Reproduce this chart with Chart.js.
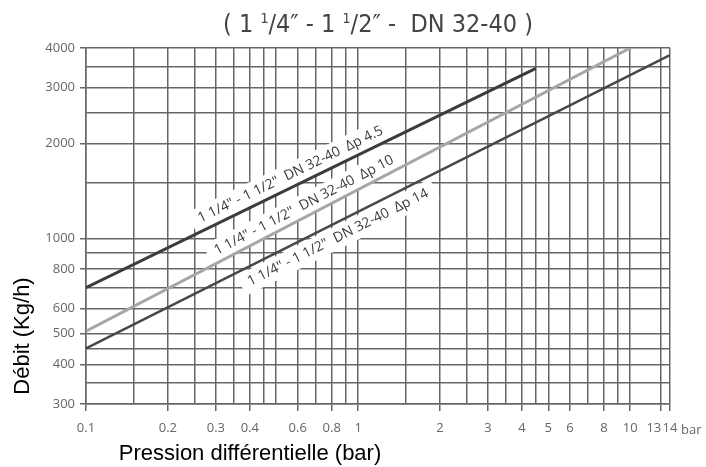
<!DOCTYPE html>
<html>
<head>
<meta charset="utf-8">
<script src="https://cdn.jsdelivr.net/npm/chart.js@4.4.1/dist/chart.umd.min.js"></script>
<style>
  html, body { margin: 0; padding: 0; background: #fff; }
  #wrap { width: 706px; height: 467px; }
</style>
</head>
<body>
<div id="wrap"><canvas id="chart" width="706" height="467"></canvas></div>
<script>
// Values (pressure in bar, flow in kg/h)
const seriesLabels = [
    '1 1/4" - 1 1/2"  DN 32-40  \u0394p 4.5',
    '1 1/4" - 1 1/2"  DN 32-40  \u0394p 10',
    '1 1/4" - 1 1/2"  DN 32-40  \u0394p 14'
];
const pressure45 = [0.1, 4.5];
const flow45 = [700, 3450];
const pressure10 = [0.1, 10];
const flow10 = [510, 4000];
const pressure14 = [0.1, 14];
const flow14 = [450, 3800];

// Grid lines and labelled ticks
const xGrid = [0.1, 0.15, 0.2, 0.25, 0.3, 0.35, 0.4, 0.45, 0.5, 0.6, 0.7, 0.8, 0.9, 1,
    1.5, 2, 2.5, 3, 3.5, 4, 4.5, 5, 6, 7, 8, 9, 10, 13, 14];
const xLabelled = [0.1, 0.2, 0.3, 0.4, 0.6, 0.8, 1, 2, 3, 4, 5, 6, 8, 10, 13, 14];
const yGrid = [300, 350, 400, 450, 500, 600, 700, 800, 900, 1000, 1500, 2000, 2500, 3000, 3500, 4000];
const yLabelled = [300, 400, 500, 600, 800, 1000, 2000, 3000, 4000];

const GRID = '#666';
const TICK_FONT = "'Open Sans', 'Liberation Sans', sans-serif";
const TITLE_FONT = "'Liberation Sans Narrow', 'DejaVu Sans Condensed', sans-serif";

function toPoints(xs, ys) {
    return xs.map((x, i) => ({ x, y: ys[i] }));
}

function isIn(list, v) {
    return list.some(l => Math.abs(l - v) < 1e-9);
}

// Line labels: where along the line (bar) and perpendicular offset (px, negative = above)
const labelPlacement = [
    { at: 0.59, off: -12 },
    { at: 0.66, off: -11 },
    { at: 0.8, off: 14 }
];

const textPlugin = {
    id: 'diagramText',
    beforeDatasetsDraw(chart) {
        const ctx = chart.ctx;
        const xs = chart.scales.x, ys = chart.scales.y;
        ctx.save();
        ctx.font = "14px " + TICK_FONT;
        chart.data.datasets.forEach((ds, i) => {
            const d = ds.data;
            const p0 = { x: xs.getPixelForValue(d[0].x), y: ys.getPixelForValue(d[0].y) };
            const p1 = { x: xs.getPixelForValue(d[d.length - 1].x), y: ys.getPixelForValue(d[d.length - 1].y) };
            const a = Math.atan2(p1.y - p0.y, p1.x - p0.x);
            const ax = xs.getPixelForValue(labelPlacement[i].at);
            const t = (ax - p0.x) / (p1.x - p0.x);
            const ay = p0.y + t * (p1.y - p0.y);
            const off = labelPlacement[i].off;
            const cx = ax - Math.sin(a) * off;
            const cy = ay + Math.cos(a) * off;
            const w = ctx.measureText(seriesLabels[i]).width;
            ctx.save();
            ctx.translate(cx, cy);
            ctx.rotate(a);
            ctx.fillStyle = '#fff';
            ctx.fillRect(-w / 2 - 8, -11, w + 16, 22);
            ctx.fillStyle = '#3a3a3a';
            ctx.textAlign = 'center';
            ctx.textBaseline = 'middle';
            ctx.fillText(seriesLabels[i], 0, 0);
            ctx.restore();
        });
        ctx.restore();
    },
    afterDraw(chart) {
        const ctx = chart.ctx;
        const area = chart.chartArea;
        ctx.save();

        // title with small raised numerators
        const runs = [
            { t: '( 1 ', s: 25, dy: 0 },
            { t: '1', s: 14, dy: -9 },
            { t: '/4\u2033 - 1 ', s: 25, dy: 0 },
            { t: '1', s: 14, dy: -9 },
            { t: '/2\u2033 -  DN 32-40 )', s: 25, dy: 0 }
        ];
        let total = 0;
        runs.forEach(r => {
            ctx.font = r.s + "px " + TITLE_FONT;
            r.w = ctx.measureText(r.t).width;
            total += r.w;
        });
        let x = (area.left + area.right) / 2 - total / 2;
        ctx.fillStyle = '#444';
        ctx.textBaseline = 'alphabetic';
        ctx.textAlign = 'left';
        runs.forEach(r => {
            ctx.font = r.s + "px " + TITLE_FONT;
            ctx.fillText(r.t, x, 32 + r.dy);
            x += r.w;
        });

        // unit after the last x label
        ctx.font = "13px " + TICK_FONT;
        ctx.fillStyle = '#666';
        ctx.textBaseline = 'middle';
        ctx.fillText('bar', chart.scales.x.getPixelForValue(14) + 11, 430);

        // axis titles
        ctx.fillStyle = '#000';
        ctx.font = "22px 'Liberation Sans', Arial, sans-serif";
        ctx.textAlign = 'center';
        ctx.fillText('Pression diff\u00e9rentielle (bar)', 250, 454);
        ctx.save();
        ctx.translate(23, 336);
        ctx.rotate(-Math.PI / 2);
        ctx.fillText('D\u00e9bit (Kg/h)', 0, 0);
        ctx.restore();

        ctx.restore();
    }
};

new Chart(document.getElementById('chart'), {
    type: 'line',
    data: {
        datasets: [
            {
                label: seriesLabels[0],
                data: toPoints(pressure45, flow45),
                borderColor: '#3c3c3c',
                borderWidth: 3
            },
            {
                label: seriesLabels[1],
                data: toPoints(pressure10, flow10),
                borderColor: '#a6a6a6',
                borderWidth: 3
            },
            {
                label: seriesLabels[2],
                data: toPoints(pressure14, flow14),
                borderColor: '#474747',
                borderWidth: 2.5
            }
        ]
    },
    options: {
        responsive: false,
        animation: false,
        devicePixelRatio: 1,
        layout: { padding: { top: 48, right: 36, left: 0, bottom: 0 } },
        elements: { point: { radius: 0 }, line: { tension: 0 } },
        plugins: {
            legend: { display: false },
            title: { display: false },
            tooltip: { enabled: false }
        },
        scales: {
            x: {
                type: 'logarithmic',
                min: 0.1,
                max: 14,
                afterBuildTicks: s => { s.ticks = xGrid.map(v => ({ value: v })); },
                afterFit: s => { s.height = 63; },
                ticks: {
                    autoSkip: false,
                    maxRotation: 0,
                    padding: 9,
                    color: '#666',
                    font: { family: TICK_FONT, size: 13 },
                    callback: v => {
                        if (!isIn(xLabelled, v)) return '';
                        return v === 13 ? '13\u2007\u2007' : String(v);
                    }
                },
                grid: {
                    color: GRID,
                    lineWidth: 1.5,
                    tickLength: 7,
                    tickColor: c => isIn(xLabelled, c.tick.value) ? GRID : 'rgba(0,0,0,0)'
                },
                border: { color: GRID, width: 1.5 }
            },
            y: {
                type: 'logarithmic',
                min: 300,
                max: 4000,
                afterBuildTicks: s => { s.ticks = yGrid.map(v => ({ value: v })); },
                afterFit: s => { s.width = 86; },
                ticks: {
                    autoSkip: false,
                    padding: 5,
                    color: '#666',
                    font: { family: TICK_FONT, size: 13 },
                    callback: v => isIn(yLabelled, v) ? String(v) : ''
                },
                grid: {
                    color: GRID,
                    lineWidth: 1.5,
                    tickLength: 6,
                    tickColor: c => isIn(yLabelled, c.tick.value) ? GRID : 'rgba(0,0,0,0)'
                },
                border: { color: GRID, width: 1.5 }
            }
        }
    },
    plugins: [textPlugin]
});
</script>
</body>
</html>
